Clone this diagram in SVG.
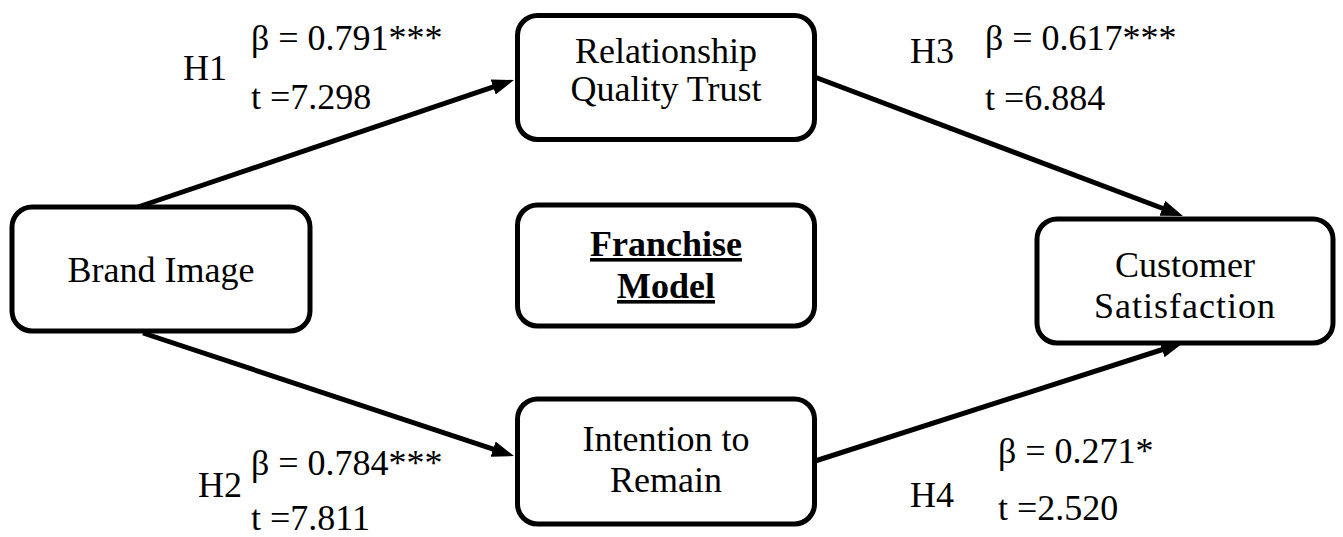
<svg xmlns="http://www.w3.org/2000/svg" width="1343" height="537" viewBox="0 0 1343 537" font-family="Liberation Serif, DejaVu Serif, serif">
  <style>
    .box { fill: #ffffff; stroke: #000000; stroke-width: 5; }
    .lbl { font-size: 36px; fill: #000000; }
    .mid { text-anchor: middle; }
    .bold { font-weight: bold; text-decoration: underline; }
    .edge { stroke: #000000; stroke-width: 5; fill: none; marker-end: url(#head); }
  </style>
  <defs>
    <marker id="head" markerUnits="userSpaceOnUse" markerWidth="24" markerHeight="18" refX="12" refY="8" orient="auto">
      <path d="M0,0 L22,8 L0,16 z" fill="#000000"/>
    </marker>
  </defs>
  <rect width="1343" height="537" fill="#ffffff"/>

  <!-- path connectors -->
  <g id="connectors">
    <line class="edge" x1="138" y1="207" x2="504.5" y2="83.2"/>
    <line class="edge" x1="143" y1="333" x2="504.5" y2="452.9"/>
    <line class="edge" x1="812" y1="76" x2="1173.6" y2="212.5"/>
    <line class="edge" x1="812" y1="462" x2="1173.5" y2="346"/>
  </g>

  <g id="brand-image">
    <rect class="box" x="12" y="207" width="298" height="124" rx="20"/>
    <text class="lbl mid" x="161" y="282" font-family="Liberation Serif">Brand Image</text>
  </g>

  <g id="relationship-quality-trust">
    <rect class="box" x="517.5" y="15.5" width="297" height="124" rx="20"/>
    <text class="lbl mid" x="666" y="63">Relationship</text>
    <text class="lbl mid" x="666" y="101">Quality Trust</text>
  </g>

  <g id="franchise-model">
    <rect class="box" x="517.5" y="205" width="297" height="121" rx="20"/>
    <text class="lbl mid bold" x="666" y="256">Franchise</text>
    <text class="lbl mid bold" x="666" y="298">Model</text>
  </g>

  <g id="intention-to-remain">
    <rect class="box" x="517.5" y="399" width="297" height="125" rx="20"/>
    <text class="lbl mid" x="666" y="451">Intention to</text>
    <text class="lbl mid" x="666" y="492">Remain</text>
  </g>

  <g id="customer-satisfaction">
    <rect class="box" x="1037" y="219" width="296" height="124" rx="20"/>
    <text class="lbl mid" x="1185" y="277">Customer</text>
    <text class="lbl mid" x="1185" y="318" letter-spacing="1">Satisfaction</text>
  </g>

  <!-- path coefficients -->
  <g id="labels">
    <text class="lbl" x="183" y="80">H1</text>
    <text class="lbl" x="251" y="50">β = 0.791***</text>
    <text class="lbl" x="251" y="109">t =7.298</text>

    <text class="lbl" x="198" y="497">H2</text>
    <text class="lbl" x="251" y="475">β = 0.784***</text>
    <text class="lbl" x="251" y="530">t =7.811</text>

    <text class="lbl" x="910" y="63">H3</text>
    <text class="lbl" x="985" y="50">β = 0.617***</text>
    <text class="lbl" x="985" y="110">t =6.884</text>

    <text class="lbl" x="910" y="507">H4</text>
    <text class="lbl" x="998" y="463">β = 0.271*</text>
    <text class="lbl" x="998" y="520">t =2.520</text>
  </g>
</svg>
